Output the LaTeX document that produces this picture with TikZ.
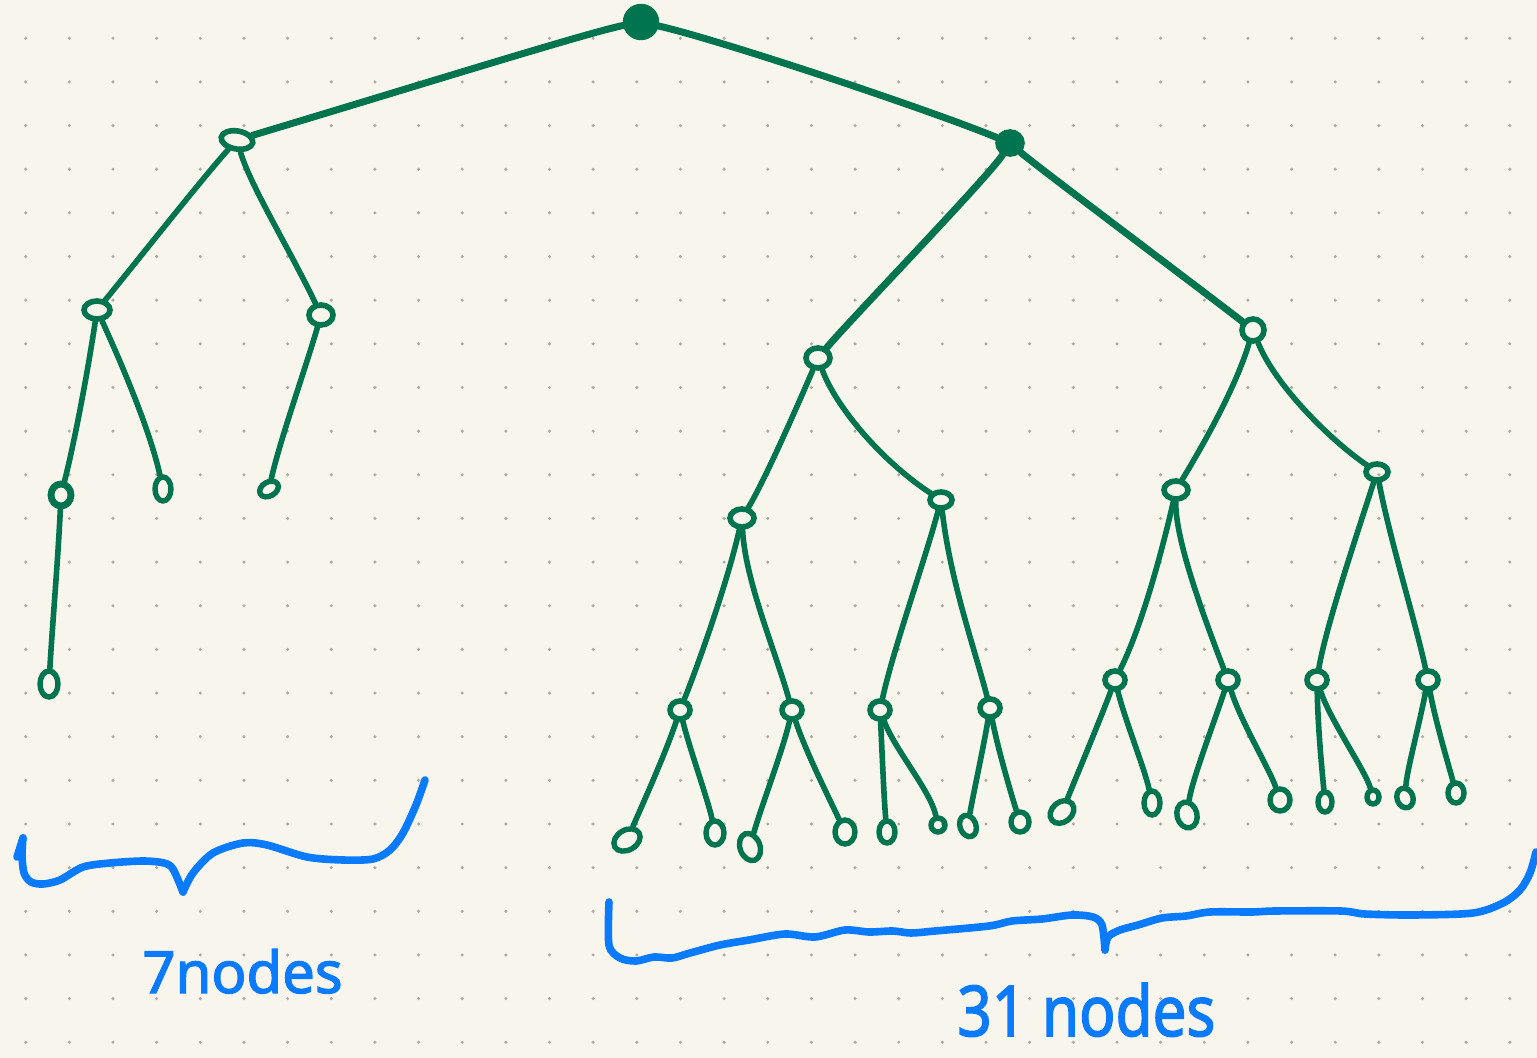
\documentclass[tikz,border=0pt]{standalone}
\usepackage{fontspec}
\setmainfont{Noto Sans}
\newfontfamily\handfont{Noto Sans}[FakeBold=2.2]
\usetikzlibrary{shapes.geometric}
\definecolor{paper}{HTML}{F8F6EC}
\definecolor{pen}{HTML}{00734F}
\definecolor{ink}{HTML}{0A7BFF}
\definecolor{grid}{HTML}{ADAAA2}

\begin{document}
\begin{tikzpicture}[x=0.5pt,y=-0.5pt,
  link/.style={draw=pen,line width=2.8pt,line cap=round},
  trunk/.style={link,line width=3.5pt},
  knot/.style={draw=pen,ellipse,line width=2.8pt,inner sep=0pt,minimum width=10pt,minimum height=9pt},
  leaf/.style={draw=pen,ellipse,line width=2.7pt,inner sep=0pt,minimum width=9pt,minimum height=12pt},
  brace/.style={draw=ink,line width=3.8pt,line cap=round,line join=round},
  notetext/.style={text=ink,inner sep=0pt,font=\handfont\fontsize{29pt}{30pt}\selectfont}
]
% paper and dot grid
\fill[paper] (0,0) rectangle (1537,1058);
\useasboundingbox (0,0) rectangle (1537,1058);
\foreach \i in {0,...,34}
  \foreach \j in {0,...,23}
    \fill[grid] ({25.7+43.65*\i},{38.3+43.65*\j}) circle (0.85pt);

% ---------- nodes ----------
\node[knot,line width=3.2pt,minimum width=15pt,minimum height=15pt,fill=pen] (root) at (641,22) {};
% left tree (7 nodes)
\node[knot,minimum width=16pt,minimum height=9pt,rotate=-10] (L) at (237,140) {};
\node[knot,minimum width=13pt,minimum height=9pt] (LL) at (97,310) {};
\node[knot,minimum width=12pt,minimum height=10pt] (LR) at (321,315) {};
\node[knot,minimum width=10pt,minimum height=11pt,line width=3.4pt] (LLL) at (61,495) {};
\node[leaf,minimum width=8pt,minimum height=12pt] (LLR) at (163,489) {};
\node[leaf,minimum width=10pt,minimum height=7pt,rotate=30] (LRL) at (269,489) {};
\node[leaf,minimum width=9pt,minimum height=13pt] (LLLL) at (49,684) {};
% right tree (31 nodes)
\node[knot,fill=pen,minimum width=12pt,minimum height=11pt] (R) at (1010,143) {};
\node[knot,minimum width=12pt,minimum height=10pt] (RL) at (818,358) {};
\node[knot,minimum width=11pt,minimum height=11pt] (RR) at (1253,330) {};
\node[knot,minimum width=12pt,minimum height=9pt] (RLL) at (742,518) {};
\node[knot,minimum width=11pt,minimum height=8pt] (RLR) at (941,500) {};
\node[knot,minimum width=12pt,minimum height=9pt] (RRL) at (1176,490) {};
\node[knot,minimum width=11pt,minimum height=8pt] (RRR) at (1377,472) {};
\node[knot] (RLLL) at (680,710) {};
\node[knot] (RLLR) at (792,710) {};
\node[knot] (RLRL) at (880,710) {};
\node[knot] (RLRR) at (990,708) {};
\node[knot] (RRLL) at (1115,680) {};
\node[knot] (RRLR) at (1228,680) {};
\node[knot] (RRRL) at (1317,680) {};
\node[knot] (RRRR) at (1428,680) {};
\node[leaf,minimum width=14pt,minimum height=10pt,rotate=30] (a1) at (627,840) {};
\node[leaf] (a2) at (715,833) {};
\node[leaf,minimum width=10pt,minimum height=14pt,rotate=20] (a3) at (750,847) {};
\node[leaf,minimum width=10pt,minimum height=12pt] (a4) at (845,832) {};
\node[leaf,minimum width=8pt,minimum height=11pt] (a5) at (887,832) {};
\node[leaf,minimum width=7pt,minimum height=7pt] (a6) at (938,825) {};
\node[leaf,minimum width=8pt,minimum height=11pt,rotate=20] (a7) at (968,826) {};
\node[leaf,minimum width=9pt,minimum height=10pt] (a8) at (1020,822) {};
\node[leaf,minimum width=13pt,minimum height=10pt,rotate=40] (b1) at (1062,812) {};
\node[leaf,minimum width=8pt,minimum height=12pt] (b2) at (1152,803) {};
\node[leaf,minimum width=10pt,minimum height=13pt,rotate=15] (b3) at (1187,815) {};
\node[leaf,minimum width=10pt,minimum height=11pt] (b4) at (1280,800) {};
\node[leaf,minimum width=7pt,minimum height=10pt] (b5) at (1325,802) {};
\node[leaf,minimum width=6pt,minimum height=7pt] (b6) at (1373,797) {};
\node[leaf,minimum width=8pt,minimum height=10pt,rotate=20] (b7) at (1405,798) {};
\node[leaf,minimum width=8pt,minimum height=10pt] (b8) at (1456,793) {};

% ---------- connectors ----------
\draw[trunk] (root) .. controls (590,32) and (420,85) .. (L);
\draw[trunk] (root) .. controls (720,40) and (930,110) .. (R);
\draw[trunk] (R) .. controls (990,175) and (850,320) .. (RL);
\draw[trunk] (R) .. controls (1035,165) and (1215,300) .. (RR);

\draw[link] (L) .. controls (205,175) and (130,270) .. (LL);
\draw[link] (L) .. controls (250,185) and (290,250) .. (LR);
\draw[link] (LL) .. controls (88,370) and (75,440) .. (LLL);
\draw[link] (LL) .. controls (120,360) and (150,430) .. (LLR);
\draw[link] (LLL) .. controls (58,560) and (52,630) .. (LLLL);
\draw[link] (LR) .. controls (305,370) and (280,440) .. (LRL);

\draw[link] (RL) .. controls (800,400) and (765,480) .. (RLL);
\draw[link] (RL) .. controls (835,405) and (880,460) .. (RLR);
\draw[link] (RR) .. controls (1235,390) and (1200,450) .. (RRL);
\draw[link] (RR) .. controls (1275,385) and (1330,440) .. (RRR);
\draw[link] (RLL) .. controls (728,580) and (700,660) .. (RLLL);
\draw[link] (RLL) .. controls (745,580) and (775,650) .. (RLLR);
\draw[link] (RLR) .. controls (925,560) and (893,650) .. (RLRL);
\draw[link] (RLR) .. controls (950,580) and (975,650) .. (RLRR);
\draw[link] (RRL) .. controls (1160,560) and (1140,630) .. (RRLL);
\draw[link] (RRL) .. controls (1175,540) and (1205,620) .. (RRLR);
\draw[link] (RRR) .. controls (1355,540) and (1325,630) .. (RRRL);
\draw[link] (RRR) .. controls (1390,540) and (1415,620) .. (RRRR);

\draw[link] (RLLL) .. controls (665,755) and (640,810) .. (a1);
\draw[link] (RLLL) .. controls (690,750) and (708,800) .. (a2);
\draw[link] (RLLR) .. controls (783,750) and (760,810) .. (a3);
\draw[link] (RLLR) .. controls (805,750) and (830,800) .. (a4);
\draw[link] (RLRL) .. controls (882,750) and (884,800) .. (a5);
\draw[link] (RLRL) .. controls (895,750) and (930,790) .. (a6);
\draw[link] (RLRR) .. controls (983,750) and (972,800) .. (a7);
\draw[link] (RLRR) .. controls (998,750) and (1013,800) .. (a8);
\draw[link] (RRLL) .. controls (1100,720) and (1075,780) .. (b1);
\draw[link] (RRLL) .. controls (1125,720) and (1145,770) .. (b2);
\draw[link] (RRLR) .. controls (1215,720) and (1192,780) .. (b3);
\draw[link] (RRLR) .. controls (1240,720) and (1270,770) .. (b4);
\draw[link] (RRRL) .. controls (1318,730) and (1322,770) .. (b5);
\draw[link] (RRRL) .. controls (1330,720) and (1365,770) .. (b6);
\draw[link] (RRRR) .. controls (1418,730) and (1407,770) .. (b7);
\draw[link] (RRRR) .. controls (1435,720) and (1450,770) .. (b8);

% ---------- braces ----------
\draw[brace] (23,838) -- (17,857);
\draw[brace] plot[smooth] coordinates {(23,838) (22,855) (24,873) (31,882) (43,884) (60,880) (83,867) (110,863) (143,861) (164,863) (173,869) (183,892)};
\draw[brace] plot[smooth] coordinates {(183,892) (193,873) (213,853) (243,843) (267,845) (307,857) (343,860) (373,859) (390,850) (403,833) (416,805) (425,780)};

\draw[brace] plot[smooth] coordinates {(609,902) (609,945) (620,958) (636,961) (654,957) (672,958) (690,953) (720,945) (749,940) (785,934) (815,937) (845,930) (869,932) (893,931) (911,933) (935,931) (989,926) (1012,921) (1042,919) (1072,915) (1093,917) (1102,925) (1105,950)};
\draw[brace] plot[smooth] coordinates {(1105,950) (1108,937) (1120,930) (1138,925) (1162,918) (1186,916) (1210,912) (1252,912) (1275,911) (1341,911) (1365,914) (1413,915) (1473,913) (1503,903) (1520,890) (1530,873) (1536,852)};

% ---------- captions ----------
\node[notetext,anchor=base west] (seven) at (142,993) {7nodes};
\node[notetext,anchor=base west,font=\handfont\fontsize{35pt}{36pt}\selectfont] (thirtyone) at (957,1036) {\scalebox{0.86}[1]{31 nodes}};
\end{tikzpicture}
\end{document}
